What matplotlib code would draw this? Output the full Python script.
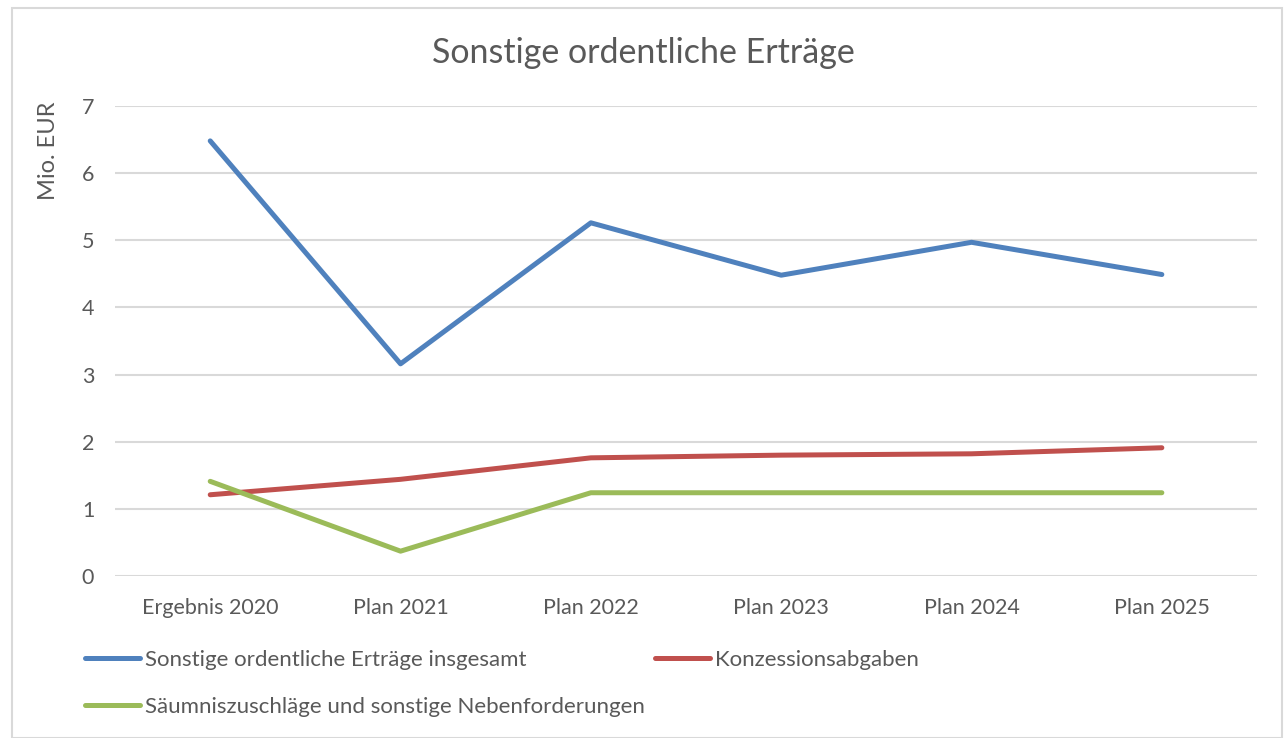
import matplotlib.pyplot as plt
from matplotlib.patches import Rectangle

plt.rcParams['font.family'] = ['Lato', 'DejaVu Sans']

# Data (Mio. EUR)
categories = ['Ergebnis 2020', 'Plan 2021', 'Plan 2022', 'Plan 2023', 'Plan 2024', 'Plan 2025']
insgesamt = [6.48, 3.16, 5.26, 4.48, 4.97, 4.49]
konzession = [1.21, 1.44, 1.76, 1.80, 1.82, 1.91]
saeumnis = [1.41, 0.37, 1.24, 1.24, 1.24, 1.24]

text_color = '#595959'
grid_color = '#D9D9D9'

fig = plt.figure(figsize=(12.87, 7.38), dpi=100)
ax = fig.add_axes([0.0894, 0.2195, 0.8873, 0.6369])

x = [i + 0.5 for i in range(len(categories))]
l1, = ax.plot(x, insgesamt, color='#4F81BD', lw=3.6, solid_capstyle='round',
              label='Sonstige ordentliche Erträge insgesamt')
l2, = ax.plot(x, konzession, color='#C0504D', lw=3.6, solid_capstyle='round',
              label='Konzessionsabgaben')
l3, = ax.plot(x, saeumnis, color='#9BBB59', lw=3.6, solid_capstyle='round',
              label='Säumniszuschläge und sonstige Nebenforderungen')

ax.set_xlim(0, len(categories))
ax.set_ylim(0, 7)
ax.set_yticks(range(0, 8))
ax.set_xticks(x)
ax.set_xticklabels(categories)
ax.tick_params(axis='both', length=0, labelsize=15.5, colors=text_color)
ax.tick_params(axis='x', pad=16)
ax.tick_params(axis='y', pad=15)
ax.grid(axis='y', color=grid_color, lw=1.5)
ax.set_axisbelow(True)
for s in ax.spines.values():
    s.set_visible(False)

ax.set_ylabel('Mio. EUR', fontsize=17, color=text_color, loc='top')
ax.yaxis.set_label_coords(-0.049, 1.01)

fig.text(0.5, 0.928, 'Sonstige ordentliche Erträge', ha='center', va='center',
         fontsize=24.5, color=text_color)

leg = fig.legend([l1, l3, l2], [l1.get_label(), l3.get_label(), l2.get_label()],
                 ncol=2, loc='upper left', bbox_to_anchor=(0.066, 0.119),
                 borderpad=0, borderaxespad=0,
                 frameon=False, fontsize=16, handlelength=2.5, handletextpad=0.2,
                 columnspacing=0.45, labelspacing=1.2)
for t in leg.get_texts():
    t.set_color(text_color)

fig.patches.append(Rectangle((0.009, 0.0), 0.987, 0.989, transform=fig.transFigure,
                             fill=False, edgecolor='#D9D9D9', lw=1.5))

fig.savefig('out.png', dpi=100)
